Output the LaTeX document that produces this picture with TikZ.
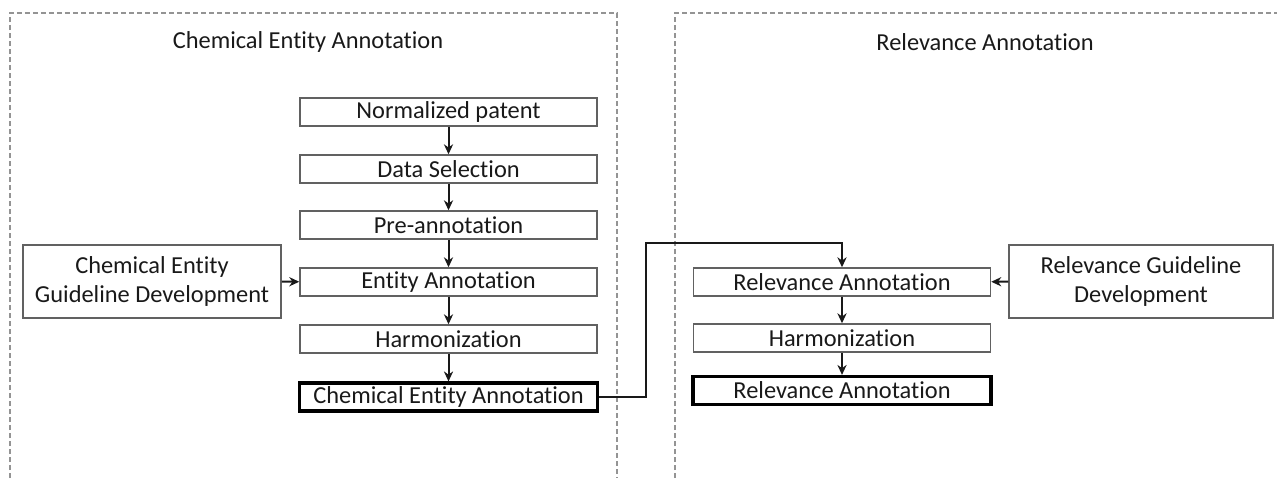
\documentclass[tikz,border=0pt]{standalone}
\usepackage{fontspec}
\setmainfont{Carlito}[Ligatures=NoCommon]
\usetikzlibrary{arrows.meta}

\definecolor{framegray}{gray}{0.58}
\definecolor{boxgray}{gray}{0.38}
\definecolor{inkgray}{gray}{0.1}

\tikzstyle{phase frame}=[draw=framegray,line width=1pt,
    dash pattern=on 2.4pt off 1.6pt]
\tikzstyle{phase title}=[text=inkgray,font=\fontsize{12.2}{14}\selectfont]
\tikzstyle{stage box}=[draw=boxgray,line width=0.75pt,rectangle,
    minimum width=148.5pt,minimum height=14pt,inner sep=0pt,
    text=inkgray,font=\fontsize{12.2}{14}\selectfont]
\tikzstyle{result box}=[draw=black,line width=1.6pt,minimum width=149pt]
\tikzstyle{guide box}=[draw=boxgray,line width=0.75pt,rectangle,
    minimum height=36.5pt,inner sep=0pt,align=center,
    text=inkgray,font=\fontsize{12.2}{14.5}\selectfont]
\tikzstyle{flow}=[draw=inkgray,line width=1pt,
    -{Stealth[length=5pt,width=4.6pt]}]
\newcommand{\stage}[4][]{
    \node[stage box,#1] at (#2) (#3) {#4};
}
\newcommand{\flowdown}[2]{\draw[flow] (#1) -- (#2);}

\begin{document}
\begin{tikzpicture}[x=0.5pt,y=-0.5pt]
    \useasboundingbox (0,0) rectangle (1277,478);
    % dashed frames, cut at the bottom and on the right
    \draw[phase frame] (10,478) -- (10,13) -- (617,13) -- (617,478);
    \draw[phase frame] (675,478) -- (675,13) -- (1277,13);
    \node[phase title] at (308,42) (chemtitle) {Chemical Entity Annotation};
    \node[phase title] at (985,42) (reltitle) {Relevance Annotation};
    %
    \stage{448.5,112}{norm}{Normalized patent}
    \stage{448.5,169}{select}{Data Selection}
    \stage{448.5,225}{preann}{Pre-annotation}
    \stage{448.5,282}{entann}{Entity Annotation}
    \stage{448.5,339}{harmL}{Harmonization}
    \stage[result box]{448.5,397}{chemout}{Chemical Entity Annotation}
    \node[guide box,minimum width=129pt] at (152,281.5) (chemguide)
        {Chemical Entity\\Guideline Development};
    %
    \stage{842,282}{relann}{Relevance Annotation}
    \stage{842,338}{harmR}{Harmonization}
    \stage[result box]{842,390.5}{relout}{Relevance Annotation}
    \node[guide box,minimum width=132pt] at (1141,281.5) (relguide)
        {Relevance Guideline\\Development};
    %
    \flowdown{norm}{select}
    \flowdown{select}{preann}
    \flowdown{preann}{entann}
    \flowdown{entann}{harmL}
    \flowdown{harmL}{chemout}
    \flowdown{relann}{harmR}
    \flowdown{harmR}{relout}
    \draw[flow] (chemguide) -- (entann);
    \draw[flow] (relguide) -- (relann);
    %
    \coordinate (jog) at (646,243);
    \draw[flow] (chemout.east) -| (jog) -| (relann.north);
\end{tikzpicture}
\end{document}
